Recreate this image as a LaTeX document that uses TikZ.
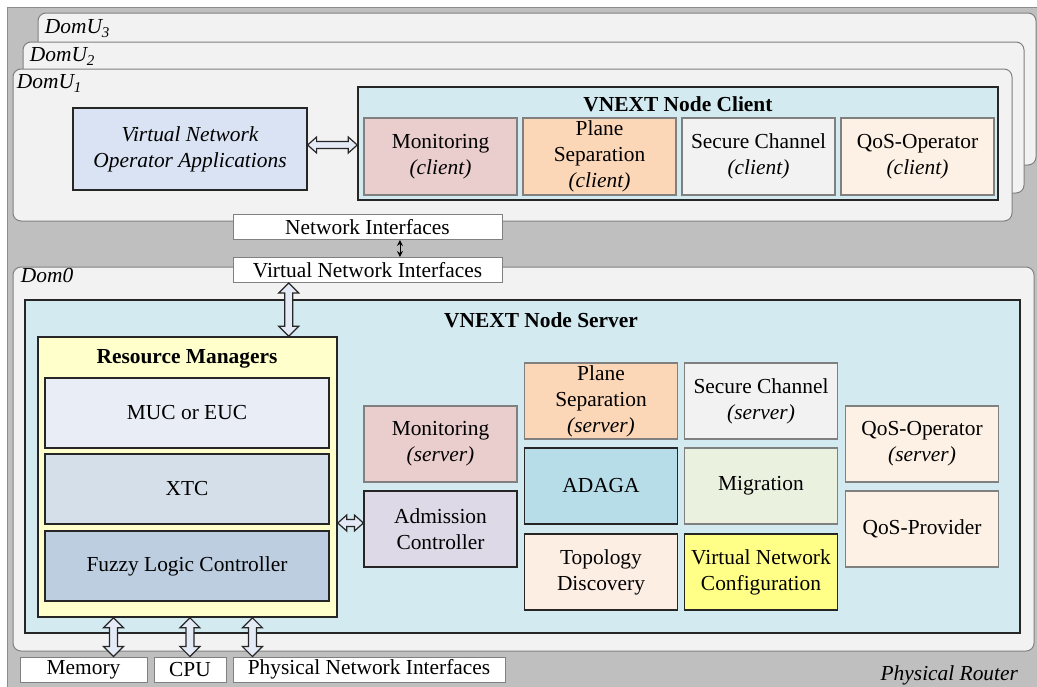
\documentclass[tikz,border=0pt]{standalone}
\usepackage{fontspec}
\setmainfont{Liberation Serif}
\usepackage{tikz}
\usetikzlibrary{calc,arrows.meta}
\definecolor{routergray}{HTML}{BFBFBF}
\definecolor{domfill}{HTML}{F2F2F2}
\definecolor{nodefill}{HTML}{D2EAF0}
\definecolor{vnofill}{HTML}{D9E3F3}
\definecolor{monfill}{HTML}{EACDCD}
\definecolor{planefill}{HTML}{FBD6B7}
\definecolor{securefill}{HTML}{F2F2F2}
\definecolor{qosfill}{HTML}{FDF0E4}
\definecolor{rmfill}{HTML}{FFFFCC}
\definecolor{mucfill}{HTML}{E9EDF5}
\definecolor{xtcfill}{HTML}{D5DFEA}
\definecolor{fuzzyfill}{HTML}{BDCEE1}
\definecolor{admfill}{HTML}{DED9E6}
\definecolor{adagafill}{HTML}{B7DDE8}
\definecolor{migfill}{HTML}{EBF1DF}
\definecolor{topofill}{HTML}{FDEEE4}
\definecolor{vncfill}{HTML}{FFFF88}
\definecolor{arrowfill}{HTML}{E4EAF6}
\newcommand{\fatv}[2]{\draw[fatarrow] let \p1=#1, \p2=#2 in
    (\x1,\y1) -- (\x1+5pt,\y1-5pt) -- (\x1+2pt,\y1-5pt) -- (\x1+2pt,\y2+5pt)
    -- (\x1+5pt,\y2+5pt) -- (\x1,\y2) -- (\x1-5pt,\y2+5pt) -- (\x1-2pt,\y2+5pt)
    -- (\x1-2pt,\y1-5pt) -- (\x1-5pt,\y1-5pt) -- cycle;}
\newcommand{\fath}[2]{\draw[fatarrow] let \p1=#1, \p2=#2 in
    (\x1,\y1) -- (\x1+4.5pt,\y1+4pt) -- (\x1+4.5pt,\y1+1.75pt) -- (\x2-4.5pt,\y1+1.75pt)
    -- (\x2-4.5pt,\y1+4pt) -- (\x2,\y1) -- (\x2-4.5pt,\y1-4pt) -- (\x2-4.5pt,\y1-1.75pt)
    -- (\x1+4.5pt,\y1-1.75pt) -- (\x1+4.5pt,\y1-4pt) -- cycle;}

\begin{document}
\begin{tikzpicture}[x=0.5pt, y=-0.5pt,
    every node/.style={font=\fontsize{10.7}{13}\selectfont},
    dom/.style={draw=black!50, line width=0.5pt, fill=domfill, rounded corners=4pt},
    domname/.style={anchor=north west, inner sep=0pt, font=\fontsize{10.7}{13}\selectfont\itshape},
    frame/.style={draw=black!85, line width=0.75pt, fill=nodefill},
    title/.style={font=\fontsize{10.7}{13}\selectfont\bfseries},
    mod/.style={draw=black!50, line width=0.6pt, minimum width=76.5pt, minimum height=38pt, inner sep=1pt, align=center},
    dark/.style={draw=black!85},
    rmbox/.style={draw=black!85, line width=0.75pt, minimum width=142pt, minimum height=35pt},
    iface/.style={draw=black!50, line width=0.5pt, fill=white, minimum height=12.5pt, inner sep=0pt},
    fatarrow/.style={draw=black!85, line width=0.6pt, fill=arrowfill}
]
    \useasboundingbox (0,0) rectangle (1037,686);
    \draw[draw=black!45, fill=routergray] (7,7) rectangle (1050,700);

    \node[dom, minimum width=499pt, minimum height=76pt] (domu3) at (537,89) {};
    \node[domname] (lu3) at ([xshift=3.5pt,yshift=-3.5pt]domu3.north west) {DomU\textsubscript{3}};
    \node[dom, minimum width=500.5pt, minimum height=75.5pt] (domu2) at (523.5,117.5) {};
    \node[domname] (lu2) at ([xshift=3.5pt,yshift=-3pt]domu2.north west) {DomU\textsubscript{2}};
    \node[dom, minimum width=499.5pt, minimum height=76pt] (domu1) at (512.5,145) {};
    \node[domname] (lu1) at ([xshift=2pt,yshift=-3pt]domu1.north west) {DomU\textsubscript{1}};

    \node[mod, dark, fill=vnofill, minimum width=117pt, minimum height=41pt, font=\fontsize{10.7}{13}\selectfont\itshape] (vno) at (190,149) {Virtual Network\\Operator Applications};
    \node[frame, minimum width=320pt, minimum height=56.5pt] (client) at (678,143.5) {};
    \node[title] (ctitle) at (678,104) {VNEXT Node Client};
    \node[mod, fill=monfill, minimum height=38.5pt] (cmon) at (440.5,156.5) {Monitoring\\\textit{(client)}};
    \node[mod, fill=planefill, minimum height=38.5pt] (cplane) at (599.5,156.5) {Plane\\Separation\\\textit{(client)}};
    \node[mod, fill=securefill, minimum height=38.5pt] (csec) at (758.5,156.5) {Secure Channel\\\textit{(client)}};
    \node[mod, fill=qosfill, minimum height=38.5pt] (cqos) at (917.5,156.5) {QoS-Operator\\\textit{(client)}};

    \node[dom, minimum width=510.5pt, minimum height=192pt] (dom0) at (523.5,459) {};
    \node[domname] (l0) at ([xshift=4pt,yshift=-0.5pt]dom0.north west) {Dom0};

    \node[iface, minimum width=134.5pt] (ni) at (367.5,227) {Network Interfaces};
    \node[iface, minimum width=134.5pt] (vni) at (367.5,270) {Virtual Network Interfaces};

    \node[frame, minimum width=497.5pt, minimum height=166.5pt] (server) at (522.5,466.5) {};
    \node[title] (stitle) at (541,320) {VNEXT Node Server};

    \node[draw=black!85, line width=0.75pt, fill=rmfill, minimum width=149.5pt, minimum height=140pt] (rm) at (187.5,477) {};
    \node[title] (rmtitle) at (187,359) {Resource Managers};
    \node[rmbox, fill=mucfill] (muc) at (187,413) {MUC or EUC};
    \node[rmbox, fill=xtcfill] (xtc) at (187,489) {XTC};
    \node[rmbox, fill=fuzzyfill] (flc) at (187,566) {Fuzzy Logic Controller};

    \node[mod, fill=monfill] (smon) at (440.5,444) {Monitoring\\\textit{(server)}};
    \node[mod, dark, fill=admfill] (adm) at (440.5,529) {Admission\\Controller};
    \node[mod, fill=planefill] (splane) at (601,401) {Plane\\Separation\\\textit{(server)}};
    \node[mod, fill=securefill] (ssec) at (761,401) {Secure Channel\\\textit{(server)}};
    \node[mod, dark, fill=adagafill] (adaga) at (601,486) {ADAGA};
    \node[mod, fill=migfill] (mig) at (761,486) {Migration};
    \node[mod, dark, fill=topofill] (topo) at (601,572) {Topology\\Discovery};
    \node[mod, dark, fill=vncfill] (vnc) at (761,572) {Virtual Network\\Configuration};
    \node[mod, fill=qosfill] (sqos) at (922,444) {QoS-Operator\\\textit{(server)}};
    \node[mod, fill=qosfill] (sprov) at (922,529) {QoS-Provider};

    \node[iface, minimum width=63.5pt] (mem) at (83.5,669.5) {Memory};
    \node[iface, minimum width=36pt] (cpu) at (190,669.5) {CPU};
    \node[iface, minimum width=136pt] (pni) at (369,669.5) {Physical Network Interfaces};
    \node[font=\fontsize{10.7}{13}\selectfont\itshape, anchor=base east] (router) at (1025,680) {Physical Router};

    \fath{([yshift=2pt]vno.east)}{(client.west)}
    \fatv{($(vni.south west)!0.208!(vni.south east)$)}{(rm.north)}
    \fath{([yshift=-23pt]rm.east)}{(adm.west)}
    \fatv{($(rm.south west)!0.254!(rm.south east)$)}{(mem.north)}
    \fatv{($(rm.south west)!0.508!(rm.south east)$)}{(cpu.north)}
    \fatv{($(rm.south west)!0.716!(rm.south east)$)}{(pni.north)}
    \draw[{Stealth[length=3pt,width=3pt]}-{Stealth[length=3pt,width=3pt]}, line width=0.4pt] ($(ni.south west)!0.62!(ni.south east)$) -- ($(vni.north west)!0.62!(vni.north east)$);
\end{tikzpicture}
\end{document}
